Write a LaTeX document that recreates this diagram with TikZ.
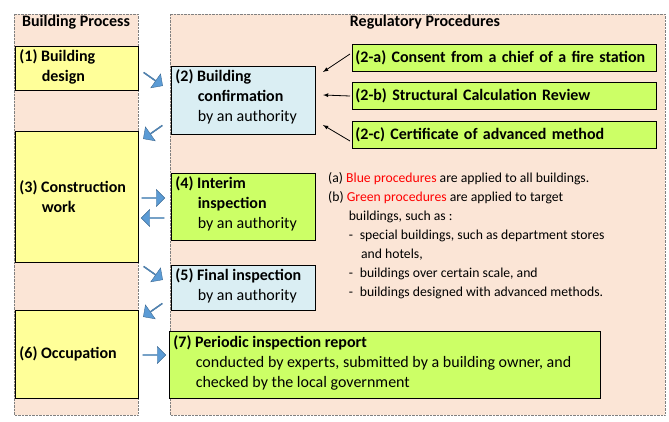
\documentclass[tikz,border=0pt]{standalone}
\usepackage{fontspec}
\setmainfont{Carlito}
\usetikzlibrary{shapes.arrows,positioning}
\definecolor{peach}{HTML}{FBE5D6}
\definecolor{lyellow}{HTML}{FFFF99}
\definecolor{lgreen}{HTML}{CCFF66}
\definecolor{lblue}{HTML}{DAEEF3}
\definecolor{arrblue}{HTML}{5B9BD5}
\tikzset{
  column/.style={draw=gray,densely dotted,fill=peach},
  stage/.style={draw=black,thick,anchor=north west,align=left,inner sep=3pt,font=\fontsize{16pt}{20pt}\selectfont},
  proc/.style={draw=black,thick,anchor=west,align=left,inner sep=3pt,fill=lgreen,text width=298pt,minimum height=27pt,font=\bfseries\fontsize{16pt}{20pt}\selectfont},
  flow/.style={single arrow,fill=arrblue,draw=arrblue!70!black,minimum height=23pt,minimum width=17pt,single arrow head extend=3pt,inner sep=0pt},
  link/.style={-latex,thick}
}
\begin{document}
\begin{tikzpicture}[x=1pt,y=-1pt]
\useasboundingbox (0,0) rectangle (669,422);
% columns
\draw[column] (14,14) rectangle (138,415);
\draw[column] (170,14) rectangle (665,415);
\node[font=\bfseries\fontsize{16pt}{20pt}\selectfont] (bphead) at (76,22) {Building Process};
\node[font=\bfseries\fontsize{16pt}{20pt}\selectfont] (rphead) at (425,22) {Regulatory Procedures};
% building process
\draw[stage,fill=lyellow] (15,46) rectangle (138,90);
\node[stage,draw=none] (design) at (16,46) {\textbf{(1) Building}\\\hspace*{1.4em}\textbf{design}};
\draw[stage,fill=lyellow] (15,131) rectangle (138,262);
\node[stage,draw=none] (constr) at (16,177) {\textbf{(3) Construction}\\\hspace*{1.4em}\textbf{work}};
\draw[stage,fill=lyellow] (15,310) rectangle (138,398);
\node[stage,draw=none] (occup) at (16,343) {\textbf{(6) Occupation}};
% regulatory procedures
\draw[stage,fill=lblue] (171,66) rectangle (315,134);
\node[stage,draw=none] (confirm) at (172,66) {\textbf{(2) Building}\\\hspace*{1.4em}\textbf{confirmation}\\\hspace*{1.4em}by an authority};
\draw[stage,fill=lgreen] (171,173) rectangle (315,240);
\node[stage,draw=none] (interim) at (172,173) {\textbf{(4) Interim}\\\hspace*{1.4em}\textbf{inspection}\\\hspace*{1.4em}by an authority};
\draw[stage,fill=lblue] (171,265) rectangle (315,310);
\node[stage,draw=none] (final) at (172,265) {\textbf{(5) Final inspection}\\\hspace*{1.4em}by an authority};
\draw[stage,fill=lgreen] (169,331) rectangle (600,398);
\node[stage,draw=none] (periodic) at (170,332) {\textbf{(7) Periodic inspection report}\\\hspace*{1.4em}conducted by experts, submitted by a building owner, and\\\hspace*{1.4em}checked by the local government};
\node[proc] (consent) at (352,58) {(2-a) Consent from a chief of a fire station};
\node[proc] (struct) at (352,96) {(2-b) Structural Calculation Review};
\node[proc] (cert) at (352,135) {(2-c) Certificate of advanced method};
\coordinate (c2a) at (323,72);
\coordinate (c2b) at (323,95);
\coordinate (c2c) at (323,125);
\draw[link] (consent.west) ++(-2,-4) coordinate (s2a) (s2a) -- (c2a);
\draw[link] (struct.west) ++(-2,0) coordinate (s2b) (s2b) -- (c2b);
\draw[link] (cert.west) ++(-2,6) coordinate (s2c) (s2c) -- (c2c);
% notes
\node[anchor=north west,align=left,inner sep=0pt,font=\fontsize{13.7pt}{19pt}\selectfont] (notes) at (328,172)
{(a) \textcolor{red}{Blue procedures} are applied to all buildings.\\
(b) \textcolor{red}{Green procedures} are applied to target\\
\hspace*{1.5em}buildings, such as :\\
\hspace*{1.5em}-\; special buildings, such as department stores\\
\hspace*{2.4em}and hotels,\\
\hspace*{1.5em}-\; buildings over certain scale, and\\
\hspace*{1.5em}-\; buildings designed with advanced methods.};
% flow arrows
\node[flow,rotate=-35] (f12) at (153,79) {};
\node[flow,rotate=-145] (f23) at (153,132) {};
\node[flow] (f34) at (153,198) {};
\node[flow,rotate=180] (f43) at (153,218) {};
\node[flow,rotate=-35] (f35) at (153,273) {};
\node[flow,rotate=-145] (f56) at (153,310) {};
\node[flow] (f67) at (154,355) {};
\end{tikzpicture}
\end{document}
